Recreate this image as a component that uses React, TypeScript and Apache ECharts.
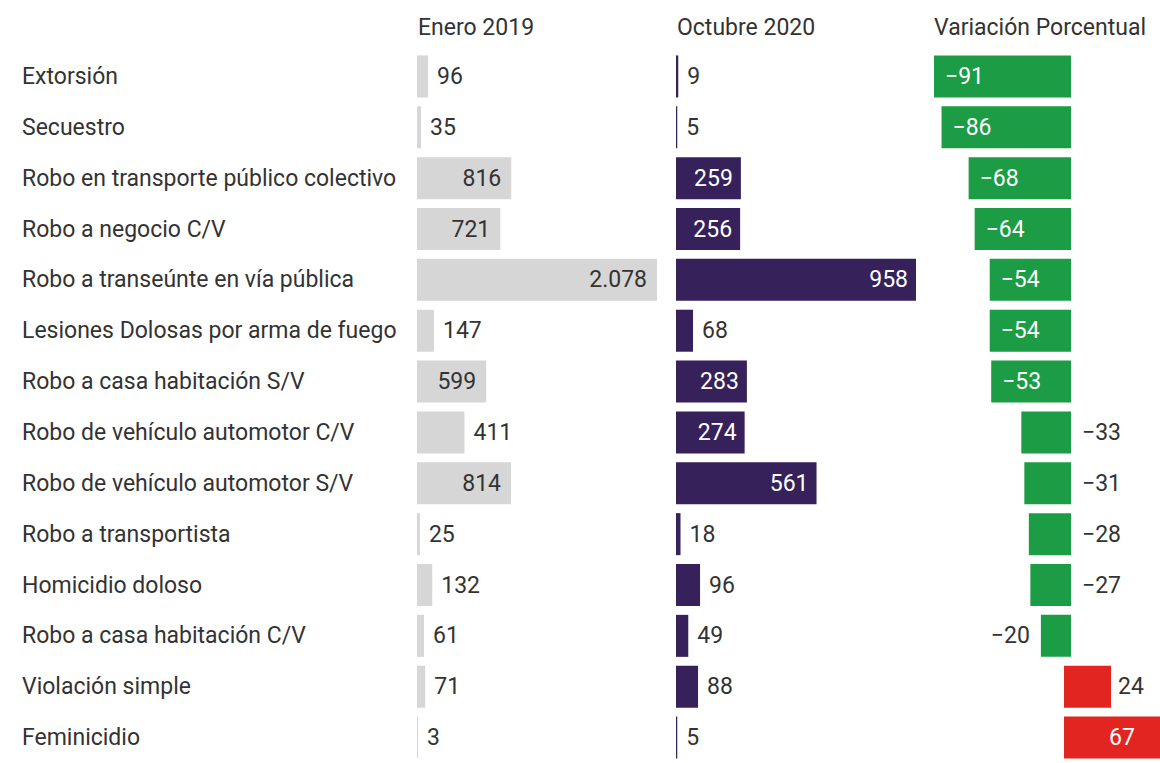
import React, { useEffect, useRef } from 'react';
import * as echarts from 'echarts';

const categories = [
  'Extorsión',
  'Secuestro',
  'Robo en transporte público colectivo',
  'Robo a negocio C/V',
  'Robo a transeúnte en vía pública',
  'Lesiones Dolosas por arma de fuego',
  'Robo a casa habitación S/V',
  'Robo de vehículo automotor C/V',
  'Robo de vehículo automotor S/V',
  'Robo a transportista',
  'Homicidio doloso',
  'Robo a casa habitación C/V',
  'Violación simple',
  'Feminicidio',
];
const enero2019 = [96, 35, 816, 721, 2078, 147, 599, 411, 814, 25, 132, 61, 71, 3];
const octubre2020 = [9, 5, 259, 256, 958, 68, 283, 274, 561, 18, 96, 49, 88, 5];
const variacion = [-91, -86, -68, -64, -54, -54, -53, -33, -31, -28, -27, -20, 24, 67];
const columnTitles = ['Enero 2019', 'Octubre 2020', 'Variación Porcentual'];

const FONT = 'Roboto, "Noto Sans", sans-serif';
const FS = 23;
const TEXT = '#333333';
const GRAY = '#d6d6d6';
const PURPLE = '#36215a';
const GREEN = '#1c9c45';
const RED = '#e32522';

const fmt = (v: number) => {
  const s = String(Math.abs(v)).replace(/\B(?=(\d{3})+(?!\d))/g, '.');
  return v < 0 ? '\u2212' + s : s;
};

export default function App() {
  const ref = useRef<HTMLDivElement>(null);
  useEffect(() => {
    document.body.style.margin = '0';
    if (!ref.current) return;
    const chart = echarts.init(ref.current, null, { renderer: 'svg' });
    const top = 51;
    const height = 713;
    const grids = [
      { left: 417, top, width: 240, height },
      { left: 676, top, width: 240, height },
      { left: 934, top, width: 137, height },
      { left: 1064, top, width: 96, height },
    ];
    const baseLabel = {
      show: true,
      fontSize: FS,
      fontFamily: FONT,
      color: TEXT,
      distance: 9,
      formatter: (p: any) => fmt(p.value),
    };
    const yAxes = grids.map((_, i) => ({
      type: 'category',
      gridIndex: i,
      data: categories,
      inverse: true,
      axisLine: { show: false },
      axisTick: { show: false },
      axisLabel:
        i === 0
          ? { show: true, align: 'left', margin: 395, fontSize: FS, fontFamily: FONT, color: TEXT }
          : { show: false },
    }));
    const xAxes = [
      { type: 'value', gridIndex: 0, min: 0, max: Math.max(...enero2019), show: false },
      { type: 'value', gridIndex: 1, min: 0, max: Math.max(...octubre2020), show: false },
      { type: 'value', gridIndex: 2, min: Math.min(...variacion), max: 0, show: false },
      { type: 'value', gridIndex: 3, min: 0, max: 49, show: false },
    ];
    const option = {
      animation: false,
      grid: grids,
      xAxis: xAxes,
      yAxis: yAxes,
      graphic: columnTitles.map((t, i) => ({
        type: 'text',
        left: [418, 677, 934][i],
        top: 16,
        style: { text: t, fontSize: FS, fontFamily: FONT, fill: TEXT },
      })),
      series: [
        {
          type: 'bar',
          xAxisIndex: 0,
          yAxisIndex: 0,
          barWidth: 42,
          barMinHeight: 1,
          itemStyle: { color: GRAY },
          label: baseLabel,
          data: enero2019.map((v) => ({
            value: v,
            label: v >= 500 ? { position: 'insideRight', distance: 10 } : { position: 'right' },
          })),
        },
        {
          type: 'bar',
          xAxisIndex: 1,
          yAxisIndex: 1,
          barWidth: 42,
          barMinHeight: 1,
          itemStyle: { color: PURPLE },
          label: baseLabel,
          data: octubre2020.map((v) => ({
            value: v,
            label:
              v >= 200
                ? { position: 'insideRight', distance: 8, color: '#ffffff' }
                : { position: 'right' },
          })),
        },
        {
          type: 'bar',
          xAxisIndex: 2,
          yAxisIndex: 2,
          barWidth: 42,
          itemStyle: { color: GREEN },
          label: baseLabel,
          data: variacion.map((v) =>
            v < 0
              ? {
                  value: v,
                  label:
                    v <= -50
                      ? { position: 'insideLeft', distance: 11, color: '#ffffff' }
                      : v <= -25
                      ? { position: 'right', distance: 11 }
                      : { position: 'left', distance: 11 },
                }
              : '-'
          ),
        },
        {
          type: 'bar',
          xAxisIndex: 3,
          yAxisIndex: 3,
          barWidth: 42,
          itemStyle: { color: RED },
          label: baseLabel,
          data: variacion.map((v) =>
            v > 0
              ? {
                  value: v,
                  label:
                    v < 40
                      ? { position: 'right', distance: 7 }
                      : { position: 'inside', color: '#ffffff', offset: [10, 0] },
                }
              : '-'
          ),
        },
      ],
    };
    chart.setOption(option as any);
    return () => chart.dispose();
  }, []);
  return <div ref={ref} style={{ width: 1160, height: 763 }} />;
}
